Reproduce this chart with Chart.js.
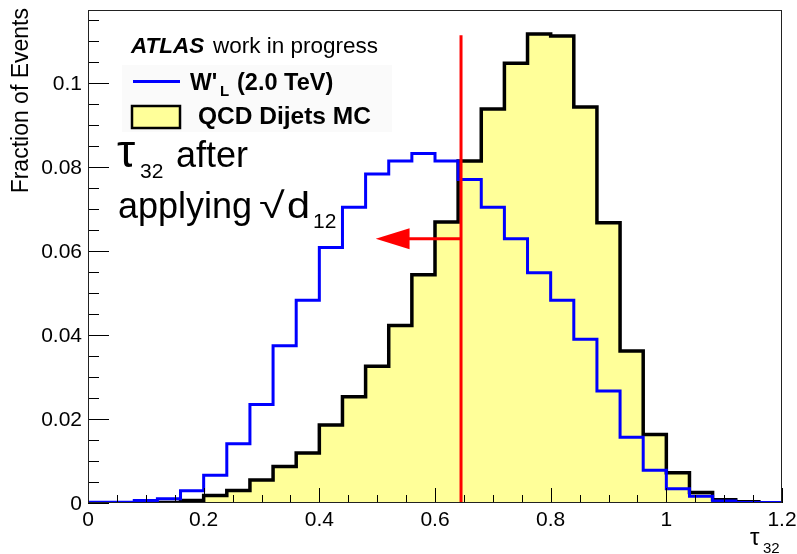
<!DOCTYPE html>
<html>
<head>
<meta charset="utf-8">
<script src="https://cdn.jsdelivr.net/npm/chart.js@4.4.1/dist/chart.umd.min.js"></script>
<style>
  html, body { margin: 0; padding: 0; background: #fff; }
  canvas { display: block; }
</style>
</head>
<body>
<canvas id="tauChart" width="797" height="554"></canvas>
<script>
// bin low edges of tau32 (bin width 0.04), last edge 1.2
const binLow = [0, 0.04, 0.08, 0.12, 0.16, 0.2, 0.24, 0.28, 0.32, 0.36,
                0.4, 0.44, 0.48, 0.52, 0.56, 0.6, 0.64, 0.68, 0.72, 0.76,
                0.8, 0.84, 0.88, 0.92, 0.96, 1.0, 1.04, 1.08, 1.12, 1.16];
const binEnd = 1.2;

// W'_L (2.0 TeV)
const wprime = [0.0002, 0.0002, 0.0006, 0.0010, 0.0029, 0.0066, 0.0141, 0.0235, 0.0375, 0.0483,
                0.0609, 0.0705, 0.0784, 0.0815, 0.0833, 0.0815, 0.0771, 0.0705, 0.0630, 0.0549,
                0.0483, 0.0390, 0.0267, 0.0157, 0.0078, 0.0034, 0.0016, 0.0005, 0.0001, 0.0001];

// QCD Dijets MC
const qcd = [0, 0, 0, 0.0001, 0.0006, 0.0018, 0.0030, 0.0055, 0.0087, 0.0119,
             0.0186, 0.0253, 0.0326, 0.0423, 0.0544, 0.0670, 0.0815, 0.0939, 0.1048, 0.1118,
             0.1113, 0.0944, 0.0668, 0.0362, 0.0163, 0.0072, 0.0025, 0.0008, 0.0003, 0];

const xTicks = [0, 0.2, 0.4, 0.6, 0.8, 1, 1.2];
const yTicks = [0, 0.02, 0.04, 0.06, 0.08, 0.1];
const yMax = 0.1175;

// cut and arrow
const cutX = 0.645;
const cutTop = 0.1115;
const arrowY = 0.063;
const arrowTip = 0.4975;
const arrowBase = 0.556;

const FONT = '"Liberation Sans", Arial, Helvetica, sans-serif';

function histPoints(vals) {
    const pts = binLow.map((x, i) => ({ x: x, y: vals[i] }));
    pts.push({ x: binEnd, y: vals[vals.length - 1] });
    return pts;
}

function stretched(ctx, text, x, y, sx) {
    ctx.save();
    ctx.translate(x, y);
    ctx.scale(sx, 1);
    ctx.fillText(text, 0, 0);
    ctx.restore();
}

const rootPlugin = {
    id: 'rootStyle',
    afterDraw(chart) {
        const ctx = chart.ctx;
        const a = chart.chartArea;
        const xs = chart.scales.x;
        const ys = chart.scales.y;
        ctx.save();

        // ticks inside the frame
        ctx.strokeStyle = '#000';
        ctx.lineWidth = 1;
        ctx.beginPath();
        for (let v = 0; v <= 1.2001; v += 0.05) {
            const px = Math.round(xs.getPixelForValue(v)) + 0.5;
            const major = Math.abs(v / 0.2 - Math.round(v / 0.2)) < 1e-6;
            ctx.moveTo(px, a.bottom);
            ctx.lineTo(px, a.bottom - (major ? 15 : 8));
        }
        for (let v = 0; v <= yMax; v += 0.005) {
            const py = Math.round(ys.getPixelForValue(v)) + 0.5;
            const major = Math.abs(v / 0.02 - Math.round(v / 0.02)) < 1e-6;
            ctx.moveTo(a.left, py);
            ctx.lineTo(a.left + (major ? 21 : 11), py);
        }
        ctx.stroke();

        // frame
        ctx.strokeStyle = '#222';
        ctx.strokeRect(Math.round(a.left) + 0.5, Math.round(a.top) + 0.5,
                       Math.round(a.right - a.left) - 1, Math.round(a.bottom - a.top) - 1);

        // tick labels
        ctx.fillStyle = '#000';
        ctx.font = '21px ' + FONT;
        ctx.textAlign = 'center';
        ctx.textBaseline = 'top';
        xTicks.forEach(v => ctx.fillText(String(v), xs.getPixelForValue(v), a.bottom + 7));
        ctx.textAlign = 'right';
        ctx.textBaseline = 'middle';
        yTicks.forEach(v => ctx.fillText(String(v), a.left - 6, ys.getPixelForValue(v) + 1));

        // arrow head
        const ay = ys.getPixelForValue(arrowY);
        ctx.fillStyle = '#ff0000';
        ctx.beginPath();
        ctx.moveTo(xs.getPixelForValue(arrowTip), ay);
        ctx.lineTo(xs.getPixelForValue(arrowBase), ay - 10.5);
        ctx.lineTo(xs.getPixelForValue(arrowBase), ay + 10.5);
        ctx.closePath();
        ctx.fill();

        // y axis title
        ctx.fillStyle = '#000';
        ctx.save();
        ctx.translate(22, 8);
        ctx.rotate(-Math.PI / 2);
        ctx.font = '23px ' + FONT;
        ctx.textAlign = 'right';
        ctx.textBaseline = 'middle';
        ctx.fillText('Fraction of Events', 0, 0);
        ctx.restore();

        // x axis title
        ctx.textAlign = 'left';
        ctx.textBaseline = 'alphabetic';
        ctx.font = '24px ' + FONT;
        ctx.fillText('τ', 750, 545);
        ctx.font = '15px ' + FONT;
        ctx.fillText('32', 763, 553);

        // legend
        ctx.fillStyle = '#fafafa';
        ctx.fillRect(122, 65, 270, 67);
        ctx.fillStyle = '#000';
        ctx.font = 'italic bold 22.5px ' + FONT;
        ctx.fillText('ATLAS', 131, 52.5);
        ctx.font = '22.5px ' + FONT;
        ctx.fillText('work in progress', 213, 52.5);

        ctx.strokeStyle = '#0000ff';
        ctx.lineWidth = 3;
        ctx.beginPath();
        ctx.moveTo(133, 81.5);
        ctx.lineTo(180, 81.5);
        ctx.stroke();
        ctx.font = 'bold 23px ' + FONT;
        ctx.fillText("W'", 190, 90);
        ctx.font = 'bold 15px ' + FONT;
        ctx.fillText('L', 220, 96);
        ctx.font = 'bold 23.5px ' + FONT;
        ctx.fillText('(2.0 TeV)', 237, 90);

        ctx.fillStyle = '#ffff99';
        ctx.fillRect(132, 106, 48, 22);
        ctx.strokeStyle = '#000';
        ctx.lineWidth = 2.5;
        ctx.strokeRect(132, 106, 48, 22);
        ctx.fillStyle = '#000';
        ctx.font = 'bold 24.5px ' + FONT;
        ctx.fillText('QCD Dijets MC', 198, 123.5);

        // annotation
        ctx.font = '46px ' + FONT;
        ctx.fillText('τ', 117, 166.5);
        ctx.font = '36px ' + FONT;
        ctx.fillText('after', 176, 166.5);
        ctx.fillText('applying', 118, 218);
        stretched(ctx, '√', 259, 218, 1.3);
        stretched(ctx, 'd', 287, 218, 1.15);
        ctx.font = '21px ' + FONT;
        ctx.fillText('32', 140, 178);
        ctx.fillText('12', 313, 228);

        ctx.restore();
    }
};

new Chart(document.getElementById('tauChart'), {
    type: 'line',
    data: {
        datasets: [
            {
                label: 'QCD Dijets MC',
                data: histPoints(qcd),
                stepped: 'before',
                borderColor: '#000000',
                borderWidth: 3.5,
                backgroundColor: '#ffff99',
                fill: 'origin',
                pointRadius: 0,
                order: 4
            },
            {
                label: "W'L (2.0 TeV)",
                data: histPoints(wprime),
                stepped: 'before',
                borderColor: '#0000ff',
                borderWidth: 3,
                fill: false,
                pointRadius: 0,
                order: 3
            },
            {
                label: 'cut',
                data: [{ x: cutX, y: 0 }, { x: cutX, y: cutTop }],
                borderColor: '#ff0000',
                borderWidth: 3,
                fill: false,
                pointRadius: 0,
                order: 2
            },
            {
                label: 'arrow',
                data: [{ x: cutX, y: arrowY }, { x: arrowBase - 0.01, y: arrowY }],
                borderColor: '#ff0000',
                borderWidth: 3,
                fill: false,
                pointRadius: 0,
                order: 1
            }
        ]
    },
    options: {
        responsive: false,
        animation: false,
        layout: { padding: { top: 10, right: 15, left: 0, bottom: 0 } },
        plugins: { legend: { display: false }, tooltip: { enabled: false } },
        scales: {
            x: {
                type: 'linear',
                min: 0,
                max: 1.2,
                afterFit: (s) => { s.height = 51; },
                grid: { display: false, drawTicks: false },
                border: { display: false },
                ticks: { display: false, stepSize: 0.2 }
            },
            y: {
                type: 'linear',
                min: 0,
                max: yMax,
                afterFit: (s) => { s.width = 88; },
                grid: { display: false, drawTicks: false },
                border: { display: false },
                ticks: { display: false, stepSize: 0.02 }
            }
        }
    },
    plugins: [rootPlugin]
});
</script>
</body>
</html>
